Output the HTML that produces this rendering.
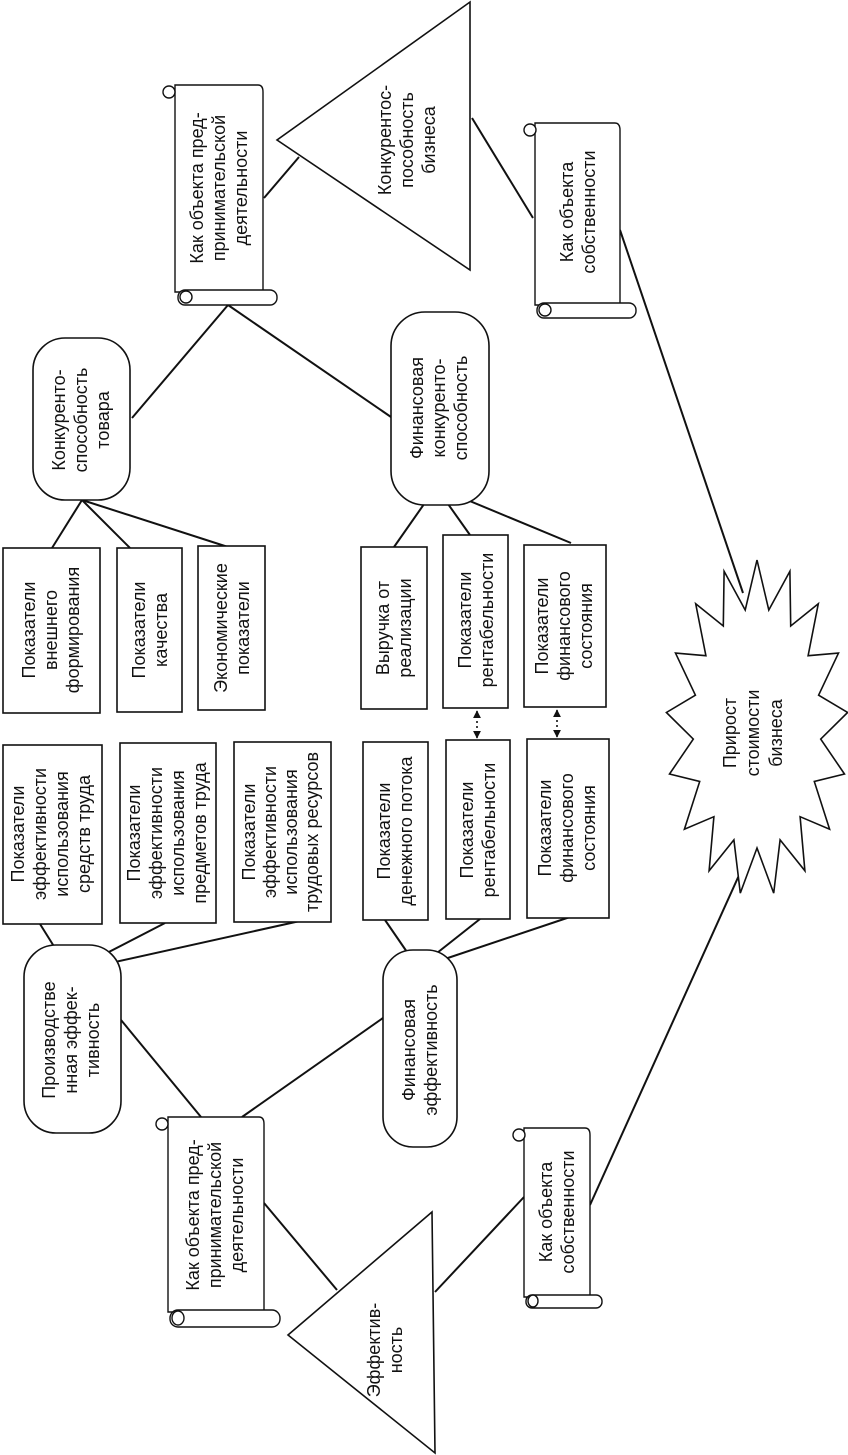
<!DOCTYPE html>
<html><head><meta charset="utf-8"><style>
html,body{margin:0;padding:0;background:#fff;}
svg{display:block;}
text{font-family:"Liberation Sans",Arial,sans-serif;font-size:18px;fill:#111;}
</style></head><body>
<svg id="s" width="848" height="1455" viewBox="0 0 848 1455" xmlns="http://www.w3.org/2000/svg">
<defs>
<marker id="ah" viewBox="0 0 10 10" refX="9" refY="5" markerWidth="5" markerHeight="5" orient="auto-start-reverse"><path d="M0,0 L10,5 L0,10 z" fill="#111"/></marker>
</defs>
<g stroke="#111" stroke-width="2" fill="none">
<line x1="264" y1="198" x2="299" y2="157"/>
<line x1="472" y1="118" x2="533" y2="218"/>
<line x1="620" y1="230" x2="743" y2="593"/>
<line x1="228" y1="305" x2="132" y2="418"/>
<line x1="228" y1="305" x2="391" y2="417"/>
<line x1="82" y1="500" x2="52" y2="548"/>
<line x1="82" y1="500" x2="130" y2="548"/>
<line x1="82" y1="500" x2="228" y2="547"/>
<line x1="436" y1="487" x2="394" y2="547"/>
<line x1="436" y1="487" x2="470" y2="535"/>
<line x1="436" y1="487" x2="571" y2="543"/>
<line x1="40" y1="924" x2="70" y2="972"/>
<line x1="165" y1="923" x2="70" y2="972"/>
<line x1="300" y1="921" x2="70" y2="972"/>
<line x1="385" y1="920" x2="418" y2="968"/>
<line x1="480" y1="919" x2="418" y2="968"/>
<line x1="570" y1="917" x2="418" y2="968"/>
<line x1="745" y1="862" x2="590" y2="1205"/>
<line x1="121" y1="1020" x2="201" y2="1117"/>
<line x1="383" y1="1018" x2="242" y2="1117"/>
<line x1="264" y1="1203" x2="337" y2="1290"/>
<line x1="435" y1="1292" x2="524" y2="1197"/>
</g>
<g stroke="#111" stroke-width="1.6" stroke-dasharray="2,3" fill="none">
<line x1="477" y1="711" x2="477" y2="738" marker-start="url(#ah)" marker-end="url(#ah)"/>
<line x1="557" y1="710" x2="557" y2="737" marker-start="url(#ah)" marker-end="url(#ah)"/>
</g>
<g stroke="#111" stroke-width="1.6" fill="#fff">
<polygon points="470,2 470,270 277,140"/>
<polygon points="432,1212 435,1453 288,1335"/>
<rect x="33" y="338" width="97" height="162" rx="32" ry="32"/>
<rect x="391" y="312" width="98" height="193" rx="34" ry="34"/>
<rect x="24" y="945" width="97" height="188" rx="32" ry="32"/>
<rect x="383" y="950" width="74" height="197" rx="30" ry="30"/>
<rect x="3" y="548" width="97" height="165"/>
<rect x="117" y="548" width="65" height="164"/>
<rect x="198" y="546" width="67" height="164"/>
<rect x="361" y="547" width="66" height="162"/>
<rect x="443" y="535" width="65" height="173"/>
<rect x="524" y="545" width="82" height="162"/>
<rect x="3" y="745" width="99" height="179"/>
<rect x="120" y="743" width="96" height="180"/>
<rect x="234" y="742" width="97" height="180"/>
<rect x="363" y="742" width="65" height="178"/>
<rect x="446" y="740" width="64" height="179"/>
<rect x="527" y="739" width="82" height="179"/>
<polygon id="star" points=""/>
</g>
<g stroke="#111" stroke-width="1.4" fill="#fff">
<path d="M175,92 L175,85 L258,85 Q263,85 263,92 L263,292 L175,292 Z"/>
<circle cx="169" cy="92" r="6"/>
<rect x="178" y="290" width="99" height="15" rx="7"/>
<ellipse cx="186" cy="297" rx="6" ry="6"/>
<path d="M535,130 L535,123 L615,123 Q620,123 620,130 L620,305 L535,305 Z"/>
<circle cx="530" cy="130" r="6"/>
<rect x="537" y="303" width="99" height="15" rx="7"/>
<ellipse cx="545" cy="310" rx="6" ry="6"/>
<path d="M168,1124 L168,1117 L259,1117 Q264,1117 264,1124 L264,1312 L168,1312 Z"/>
<circle cx="162" cy="1124" r="6"/>
<rect x="170" y="1310" width="110" height="17" rx="8"/>
<ellipse cx="178" cy="1318" rx="6" ry="7"/>
<path d="M524,1135 L524,1128 L585,1128 Q590,1128 590,1135 L590,1297 L524,1297 Z"/>
<circle cx="519" cy="1135" r="6"/>
<rect x="526" y="1295" width="76" height="13" rx="6"/>
<ellipse cx="533" cy="1301" rx="5" ry="6"/>
</g>
<g text-anchor="middle">
<g transform="translate(220,188) rotate(-90)"><text y="-17">Как объекта пред-</text><text y="5">принимательской</text><text y="27">деятельности</text></g>
<g transform="translate(408,140) rotate(-90)"><text y="-17">Конкурентос-</text><text y="5">пособность</text><text y="27">бизнеса</text></g>
<g transform="translate(578,212) rotate(-90)"><text y="-5">Как объекта</text><text y="17">собственности</text></g>
<g transform="translate(82,420) rotate(-90)"><text y="-17">Конкуренто-</text><text y="5">способность</text><text y="27">товара</text></g>
<g transform="translate(440,408) rotate(-90)"><text y="-17">Финансовая</text><text y="5">конкуренто-</text><text y="27">способность</text></g>
<g transform="translate(52,630) rotate(-90)"><text y="-17">Показатели</text><text y="5">внешнего</text><text y="27">формирования</text></g>
<g transform="translate(150,630) rotate(-90)"><text y="-5">Показатели</text><text y="17">качества</text></g>
<g transform="translate(232,628) rotate(-90)"><text y="-5">Экономические</text><text y="17">показатели</text></g>
<g transform="translate(394,628) rotate(-90)"><text y="-5">Выручка от</text><text y="17">реализации</text></g>
<g transform="translate(476,620) rotate(-90)"><text y="-5">Показатели</text><text y="17">рентабельности</text></g>
<g transform="translate(565,626) rotate(-90)"><text y="-17">Показатели</text><text y="5">финансового</text><text y="27">состояния</text></g>
<g transform="translate(52,834) rotate(-90)"><text y="-28">Показатели</text><text y="-6">эффективности</text><text y="16">использования</text><text y="38">средств труда</text></g>
<g transform="translate(168,833) rotate(-90)"><text y="-28">Показатели</text><text y="-6">эффективности</text><text y="16">использования</text><text y="38">предметов труда</text></g>
<g transform="translate(282,832) rotate(-90)" style="font-size:17px"><text y="-27">Показатели</text><text y="-6">эффективности</text><text y="15">использования</text><text y="36">трудовых ресурсов</text></g>
<g transform="translate(395,831) rotate(-90)"><text y="-5">Показатели</text><text y="17">денежного потока</text></g>
<g transform="translate(478,830) rotate(-90)"><text y="-5">Показатели</text><text y="17">рентабельности</text></g>
<g transform="translate(568,828) rotate(-90)"><text y="-17">Показатели</text><text y="5">финансового</text><text y="27">состояния</text></g>
<g transform="translate(754,733) rotate(-90)" style="font-size:19px"><text y="-18">Прирост</text><text y="5">стоимости</text><text y="28">бизнеса</text></g>
<g transform="translate(72,1040) rotate(-90)"><text y="-17">Производстве</text><text y="5">нная эффек-</text><text y="27">тивность</text></g>
<g transform="translate(420,1050) rotate(-90)"><text y="-5">Финансовая</text><text y="17">эффективность</text></g>
<g transform="translate(216,1215) rotate(-90)"><text y="-17">Как объекта пред-</text><text y="5">принимательской</text><text y="27">деятельности</text></g>
<g transform="translate(385,1350) rotate(-90)"><text y="-5">Эффектив-</text><text y="17">ность</text></g>
<g transform="translate(557,1212) rotate(-90)"><text y="-5">Как объекта</text><text y="17">собственности</text></g>
</g>
</svg>
<script>
(function(){var cx=757,cy=728,n=17,p=[];for(var i=0;i<2*n;i++){var a=Math.PI*i/n-Math.PI/2;var o=i%2==0;var rx=o?91:64,ry=o?168:120;p.push((cx+rx*Math.cos(a)).toFixed(1)+","+(cy+ry*Math.sin(a)).toFixed(1));}document.getElementById("star").setAttribute("points",p.join(" "));})();
</script>
</body></html>
